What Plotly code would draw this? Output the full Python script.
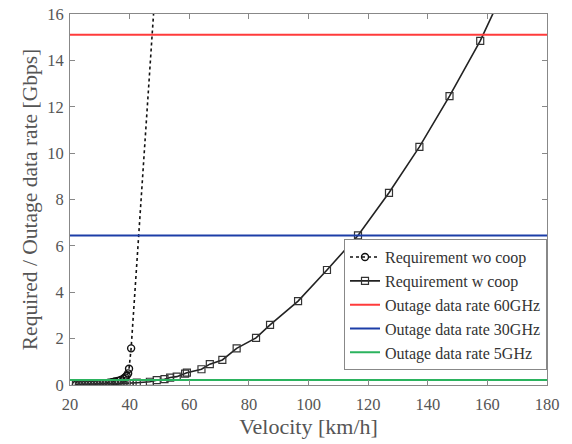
import plotly.graph_objects as go

# Requirement without cooperation
wo_x = [22, 23, 24, 25, 26, 27, 28, 29, 30, 31, 32, 33, 34, 35, 36, 37, 38, 38.5, 39, 39.5, 39.8, 40.5, 50]
wo_y = [0.01, 0.01, 0.02, 0.02, 0.03, 0.03, 0.04, 0.05, 0.06, 0.07, 0.08, 0.1, 0.12, 0.15, 0.18, 0.22,
        0.28, 0.33, 0.4, 0.5, 0.7, 1.58, 19.8]

# Requirement with cooperation
w_x = [22, 23, 24, 25, 26, 27, 28, 29, 30, 31, 32, 33, 34, 35, 36, 37, 38, 39, 40, 41, 42.4, 46.8, 49.1,
       51.7, 53.6, 55.8, 58.6, 59.2, 64.1, 66.9, 71.1, 75.9, 82.4, 87.1, 96.5, 106.2, 116.6, 127.0,
       137.2, 147.3, 157.6, 167.5]
w_y = [0.03, 0.03, 0.03, 0.03, 0.04, 0.04, 0.04, 0.04, 0.05, 0.05, 0.05, 0.05, 0.06, 0.06, 0.06, 0.06,
       0.07, 0.07, 0.08, 0.08, 0.1, 0.14, 0.21, 0.25, 0.32, 0.36, 0.49, 0.53, 0.68, 0.9, 1.08, 1.58,
       2.03, 2.59, 3.62, 4.96, 6.45, 8.29, 10.27, 12.46, 14.84, 17.57]

# Outage data rates (horizontal levels)
outage_names = ["Outage data rate 60GHz", "Outage data rate 30GHz", "Outage data rate 5GHz"]
outage_vals = [15.1, 6.45, 0.22]
outage_colors = ["#ff3b3b", "#1c3ea8", "#2bb35e"]
x_span = [20, 180]

SERIF = "Liberation Serif"

fig = go.Figure()
fig.add_trace(go.Scatter(
    x=wo_x, y=wo_y, mode="lines+markers", name="Requirement wo coop",
    line=dict(color="#111111", width=1.6, dash="dot"),
    marker=dict(symbol="circle-open", size=7, color="#111111", line=dict(width=1.4)),
))
fig.add_trace(go.Scatter(
    x=w_x, y=w_y, mode="lines+markers", name="Requirement w coop",
    line=dict(color="#222222", width=1.6),
    marker=dict(symbol="square-open", size=7, color="#333333", line=dict(width=1.2)),
))
for n, v, c in zip(outage_names, outage_vals, outage_colors):
    fig.add_trace(go.Scatter(x=x_span, y=[v, v], mode="lines", name=n,
                             line=dict(color=c, width=2)))

axis_common = dict(
    showgrid=False, zeroline=False, showline=True, linecolor="#888888", linewidth=1,
    mirror="ticks", ticks="inside", ticklen=5, tickcolor="#888888", automargin=False,
    ticklabeloverflow="allow",
    tickfont=dict(family=SERIF, size=16.5, color="#555555"),
)
fig.update_layout(
    width=564, height=436,
    margin=dict(l=62, r=25, t=6, b=59),
    paper_bgcolor="white", plot_bgcolor="white",
    font=dict(family=SERIF, color="#555555"),
    xaxis=dict(range=[20, 180], tickvals=[20, 40, 60, 80, 100, 120, 140, 160, 180],
               ticklabelstandoff=4,
               title=dict(text="Velocity [km/h]", font=dict(family=SERIF, size=22, color="#555555"), standoff=0),
               **axis_common),
    yaxis=dict(range=[0, 16], tickvals=[0, 2, 4, 6, 8, 10, 12, 14, 16],
               ticklabelstandoff=2,
               title=dict(text="Required / Outage data rate [Gbps]", font=dict(family=SERIF, size=21.5, color="#555555"), standoff=3),
               **axis_common),
    legend=dict(x=1.0, y=0.04, xanchor="right", yanchor="bottom",
                bgcolor="white", bordercolor="#888888", borderwidth=1,
                font=dict(family=SERIF, size=16, color="#333333"),
                tracegroupgap=0, itemwidth=30),
    showlegend=True,
)
fig.write_html("out.html")
